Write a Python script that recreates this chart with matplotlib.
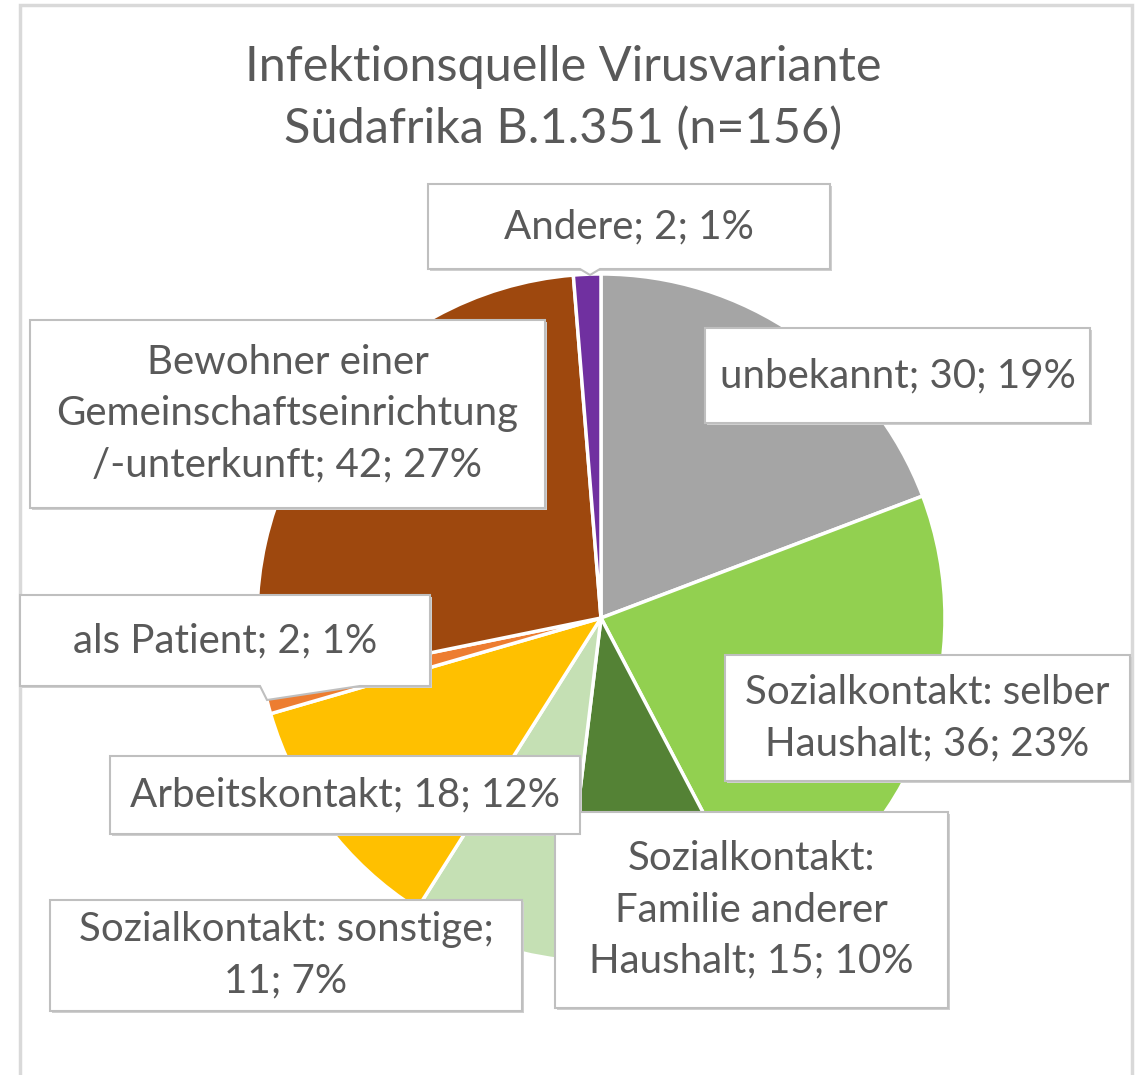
import textwrap
import matplotlib
matplotlib.use("Agg")
import matplotlib.pyplot as plt
from matplotlib.patches import Rectangle, Polygon

plt.rcParams['font.family'] = ['Lato', 'DejaVu Sans']

# data
categories = ["unbekannt",
              "Sozialkontakt: selber Haushalt",
              "Sozialkontakt: Familie anderer Haushalt",
              "Sozialkontakt: sonstige",
              "Arbeitskontakt",
              "als Patient",
              "Bewohner einer Gemeinschaftseinrichtung /-unterkunft",
              "Andere"]
counts = [30, 36, 15, 11, 18, 2, 42, 2]
colors = ["#A5A5A5", "#92D050", "#548235", "#C5E0B4",
          "#FFC000", "#ED7D31", "#9E480E", "#7030A0"]
title = "Infektionsquelle Virusvariante\nSüdafrika B.1.351 (n=156)"

# label layout in pixels (x0, y0, x1, y1 of box, wrap width)
W, H = 1140, 1075
boxes = [(705, 328, 1090, 423, 40),
         (725, 655, 1130, 781, 21),
         (555, 812, 948, 1008, 17),
         (50, 900, 522, 1011, 24),
         (110, 756, 580, 834, 40),
         (20, 595, 430, 686, 40),
         (30, 320, 545, 508, 24),
         (428, 184, 830, 269, 40)]

fig = plt.figure(figsize=(W / 100, H / 100), dpi=100)
ax = fig.add_axes([0, 0, 1, 1])

def Y(y):
    return H - y

total = sum(counts)
ax.pie(counts, colors=colors, startangle=90, counterclock=False,
       center=(601, Y(618)), radius=344,
       wedgeprops=dict(edgecolor="white", linewidth=2.5))

# outer frame
ax.plot([20, 20, 1132, 1132], [0, Y(5), Y(5), 0], color="#D9D9D9", lw=2.5,
        solid_joinstyle="miter", zorder=1)

ax.text(563, Y(98), title, ha="center", va="center", fontsize=35,
        color="#595959", linespacing=1.45)

txtcol = "#595959"
for name, v, (x0, y0, x1, y1, wrap) in zip(categories, counts, boxes):
    pct = round(v / total * 100)
    s = textwrap.fill(f"{name}; {v}; {pct}%", width=wrap, break_on_hyphens=False)
    shadow = Rectangle((x0 + 2, Y(y1) - 2), x1 - x0, y1 - y0, facecolor="#D0D0D0",
                       edgecolor="none", zorder=3)
    ax.add_patch(shadow)
    if name == "als Patient":
        box = Polygon([(x0, Y(y0)), (x1, Y(y0)), (x1, Y(y1)), (360, Y(y1)),
                       (267, Y(700)), (260, Y(y1)), (x0, Y(y1))], closed=True,
                      facecolor="white", edgecolor="#BFBFBF", lw=1.5, zorder=4)
    elif name == "Andere":
        box = Polygon([(x0, Y(y0)), (x1, Y(y0)), (x1, Y(y1)), (600, Y(y1)),
                       (590, Y(275)), (580, Y(y1)), (x0, Y(y1))], closed=True,
                      facecolor="white", edgecolor="#BFBFBF", lw=1.5, zorder=4)
    else:
        box = Rectangle((x0, Y(y1)), x1 - x0, y1 - y0, facecolor="white",
                        edgecolor="#BFBFBF", lw=1.5, zorder=4)
    ax.add_patch(box)
    ax.text((x0 + x1) / 2, Y((y0 + y1) / 2), s, ha="center", va="center",
            fontsize=29, color=txtcol, linespacing=1.48, zorder=5)

ax.set_xlim(0, W)
ax.set_ylim(0, H)
ax.set_aspect("equal")
ax.axis("off")

fig.savefig("out.png", dpi=100)
